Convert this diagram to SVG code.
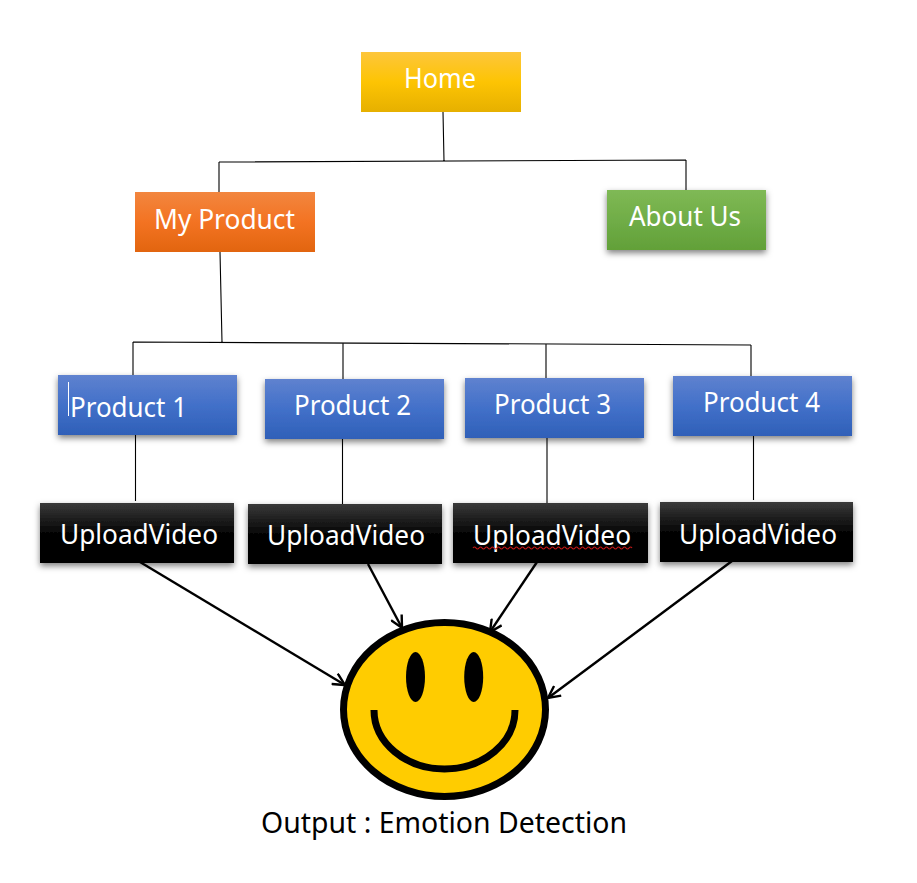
<svg xmlns="http://www.w3.org/2000/svg" width="917" height="883" viewBox="0 0 917 883">
<style>
text{font-family:"Noto Sans","Open Sans","Liberation Sans",sans-serif;fill:#fff;font-size:27px}
.line{stroke:#000;stroke-width:1.1;fill:none}
.arrow{stroke:#000;stroke-width:2.400;fill:none;marker-end:url(#open)}
</style>
<defs>
<linearGradient id="gold" x1="0" y1="0" x2="0" y2="1"><stop offset="0" stop-color="#fdc63c"/><stop offset=".5" stop-color="#fdc403"/><stop offset="1" stop-color="#e6b000"/></linearGradient>
<linearGradient id="orange" x1="0" y1="0" x2="0" y2="1"><stop offset="0" stop-color="#f2863f"/><stop offset=".5" stop-color="#f37322"/><stop offset="1" stop-color="#e2650f"/></linearGradient>
<linearGradient id="green" x1="0" y1="0" x2="0" y2="1"><stop offset="0" stop-color="#7fb955"/><stop offset=".5" stop-color="#70ad47"/><stop offset="1" stop-color="#62a038"/></linearGradient>
<linearGradient id="blue" x1="0" y1="0" x2="0" y2="1"><stop offset="0" stop-color="#5f82cf"/><stop offset=".5" stop-color="#4270c9"/><stop offset="1" stop-color="#2f60b8"/></linearGradient>
<linearGradient id="black" x1="0" y1="0" x2="0" y2="1"><stop offset="0" stop-color="#3a3a3a"/><stop offset=".55" stop-color="#000"/><stop offset="1" stop-color="#000"/></linearGradient>
<filter id="shadow" x="-10%" y="-20%" width="120%" height="150%"><feDropShadow dx="0" dy="3" stdDeviation="3" flood-color="#000" flood-opacity=".5"/></filter>
<marker id="open" viewBox="0 0 14 14" refX="13" refY="7" markerWidth="14" markerHeight="14" markerUnits="userSpaceOnUse" orient="auto"><path d="M1,1 L13,7 L1,13" fill="none" stroke="#000" stroke-width="2.400"/></marker>
</defs>
<g id="connectors">
<path class="line" d="M443,112 L444,161 M219,162 L686,160 M219,162 L219,192 M686,160 L686,190"/>
<path class="line" d="M220,252 L222,342 M133,342 L751,345 M133,342 L133,375 M343,343 L343,379 M546,344 L546,378 M751,345 L751,376"/>
<path class="line" d="M135.500,435 L135.500,501 M342.500,439 L342.500,504 M547,438 L547,503 M753.500,436 L753.500,500"/>
<path class="arrow" d="M140,562 L345,685"/>
<path class="arrow" d="M368,564 L402,628"/>
<path class="arrow" d="M537,562 L490,632"/>
<path class="arrow" d="M732,561 L548,698"/>
</g>
<g id="home"><rect x="361" y="52" width="160" height="60" fill="url(#gold)"/><text x="440" y="88" text-anchor="middle" textLength="72" lengthAdjust="spacingAndGlyphs">Home</text></g>
<g id="my-product"><rect x="135" y="192" width="180" height="60" fill="url(#orange)"/><text x="154" y="229" textLength="141" lengthAdjust="spacingAndGlyphs">My Product</text></g>
<g id="about-us"><rect x="607" y="190" width="159" height="60" fill="url(#green)" filter="url(#shadow)"/><text x="629" y="226" textLength="112" lengthAdjust="spacingAndGlyphs">About Us</text></g>
<g id="product-1"><rect x="58" y="375" width="179" height="60" fill="url(#blue)" filter="url(#shadow)"/><path d="M68.500,382 V416" stroke="#fff" stroke-width="1"/><text x="70" y="417" textLength="117" lengthAdjust="spacingAndGlyphs">Product 1</text></g>
<g id="product-2"><rect x="265" y="379" width="179" height="60" fill="url(#blue)" filter="url(#shadow)"/><text x="294" y="415" textLength="117" lengthAdjust="spacingAndGlyphs">Product 2</text></g>
<g id="product-3"><rect x="465" y="378" width="179" height="60" fill="url(#blue)" filter="url(#shadow)"/><text x="494" y="414" textLength="117" lengthAdjust="spacingAndGlyphs">Product 3</text></g>
<g id="product-4"><rect x="673" y="376" width="179" height="60" fill="url(#blue)" filter="url(#shadow)"/><text x="703" y="412" textLength="117" lengthAdjust="spacingAndGlyphs">Product 4</text></g>
<g id="upload-1"><rect x="40" y="503" width="194" height="60" fill="url(#black)" filter="url(#shadow)"/><text x="60" y="544" textLength="158" lengthAdjust="spacingAndGlyphs">UploadVideo</text></g>
<g id="upload-2"><rect x="248" y="504" width="194" height="60" fill="url(#black)" filter="url(#shadow)"/><text x="267" y="545" textLength="158" lengthAdjust="spacingAndGlyphs">UploadVideo</text></g>
<g id="upload-3"><rect x="453" y="503" width="195" height="60" fill="url(#black)" filter="url(#shadow)"/><text x="473" y="545" textLength="158" lengthAdjust="spacingAndGlyphs">UploadVideo</text><path d="M473,548 q1.500,-2 3,0 t3,0 t3,0 t3,0 t3,0 t3,0 t3,0 t3,0 t3,0 t3,0 t3,0 t3,0 t3,0 t3,0 t3,0 t3,0 t3,0 t3,0 t3,0 t3,0 t3,0 t3,0 t3,0 t3,0 t3,0 t3,0 t3,0 t3,0 t3,0 t3,0 t3,0 t3,0 t3,0 t3,0 t3,0 t3,0 t3,0 t3,0 t3,0 t3,0 t3,0 t3,0 t3,0 t3,0 t3,0 t3,0 t3,0 t3,0 t3,0 t3,0 t3,0 t3,0 t3,0" fill="none" stroke="#c01818" stroke-width="1.200"/></g>
<g id="upload-4"><rect x="660" y="502" width="193" height="60" fill="url(#black)" filter="url(#shadow)"/><text x="679" y="544" textLength="158" lengthAdjust="spacingAndGlyphs">UploadVideo</text></g>
<g id="smiley">
<ellipse cx="444.500" cy="709.500" rx="101" ry="87" fill="#fc0" stroke="#000" stroke-width="7"/>
<ellipse cx="415.500" cy="677" rx="9.500" ry="25" fill="#000"/>
<ellipse cx="473.700" cy="677" rx="9.500" ry="25" fill="#000"/>
<path d="M374,710 A70.500,59 0 0 0 515,710" fill="none" stroke="#000" stroke-width="7"/>
</g>
<g id="caption"><text x="261" y="833" style="fill:#000;font-size:29px" textLength="366" lengthAdjust="spacingAndGlyphs">Output : Emotion Detection</text></g>
</svg>
